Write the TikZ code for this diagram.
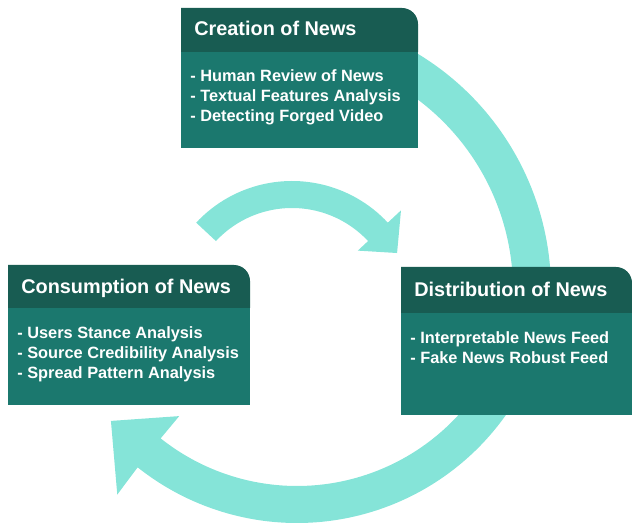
\documentclass[tikz,border=0pt]{standalone}
\usepackage{fontspec}
\setmainfont{Liberation Sans}
\definecolor{headteal}{HTML}{185C52}
\definecolor{bodyteal}{HTML}{1B786E}
\definecolor{arcteal}{HTML}{85E4D8}
\begin{document}
\begin{tikzpicture}[x = 0.02cm, y = -0.02cm,
		title/.style = {anchor = base west, inner sep = 0, text = white, font = \fontsize{11.3}{13.5}\selectfont\bfseries},
		items/.style = {anchor = north west, inner sep = 0, align = left, text = white, font = \fontsize{9.3}{11.6}\selectfont\bfseries},
		turnarrow/.style = {fill = arcteal}]
		\useasboundingbox (0, 0) rectangle (632, 523);

		% big arc, creation to distribution
		\fill [turnarrow, shift = {(275, 290)}] (-70:276) arc [start angle = -70, end angle = 5, radius = 276] -- (5:238) arc [start angle = 5, end angle = -70, radius = 238] -- cycle;

		% big arc, distribution to consumption
		\fill [turnarrow, shift = {(297, 267)}] (30:256) arc [start angle = 30, end angle = 128.5, radius = 256] -- (128.3:290) -- (140.4:241.5) -- (128.3:190) -- (128.5:219) arc [start angle = 128.5, end angle = 30, radius = 219] -- cycle;

		% small arc, consumption to distribution
		\fill [turnarrow, shift = {(292, 312)}] (-137:131) arc [start angle = -137, end angle = -43, radius = 131] -- (-43:149) -- (-29.3:120.5) -- (-43:90) -- (-43:104) arc [start angle = -43, end angle = -137, radius = 104] -- cycle;

		% creation box
		\fill [bodyteal] (181, 52) rectangle (418, 148);
		\fill [headteal] (181, 52) -- (181, 8) -- (402, 8) arc [start angle = -90, end angle = 0, radius = 16] -- (418, 52) -- cycle;
		\node (cretitle) at (194, 36) [title] {Creation of News};
		\node (creitems) at (190, 69) [items] {- Human Review of News\\- Textual Features Analysis\\- Detecting Forged Video};

		% consumption box
		\fill [bodyteal] (8, 308) rectangle (250, 405);
		\fill [headteal] (8, 308) -- (8, 265) -- (234, 265) arc [start angle = -90, end angle = 0, radius = 16] -- (250, 308) -- cycle;
		\node (contitle) at (21, 294) [title] {Consumption of News};
		\node (conitems) at (17, 326) [items] {- Users Stance Analysis\\- Source Credibility Analysis\\- Spread Pattern Analysis};

		% distribution box
		\fill [bodyteal] (401, 313) rectangle (632, 415);
		\fill [headteal] (401, 313) -- (401, 267) -- (616, 267) arc [start angle = -90, end angle = 0, radius = 16] -- (632, 313) -- cycle;
		\node (distitle) at (414, 297) [title] {Distribution of News};
		\node (disitems) at (410, 331) [items] {- Interpretable News Feed\\- Fake News Robust Feed};
	\end{tikzpicture}
\end{document}
